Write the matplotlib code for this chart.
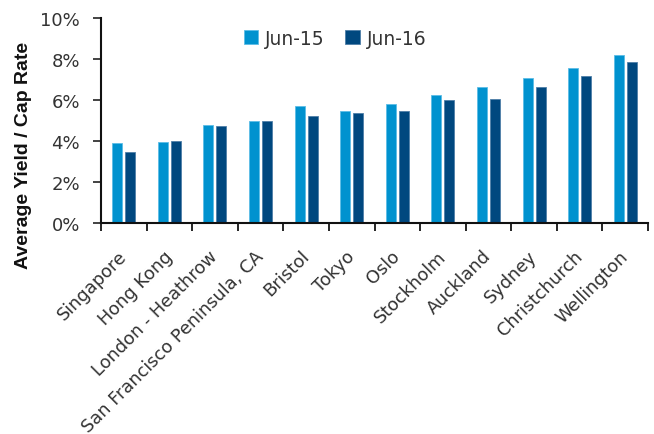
import numpy as np
import matplotlib
matplotlib.use('Agg')
import matplotlib.pyplot as plt
from matplotlib.ticker import FuncFormatter
from matplotlib.transforms import ScaledTranslation

# ============ data ============ #
cities = ["Singapore", "Hong Kong", "London - Heathrow", "San Francisco Peninsula, CA",
          "Bristol", "Tokyo", "Oslo", "Stockholm", "Auckland", "Sydney",
          "Christchurch", "Wellington"]
jun15 = [3.89, 3.93, 4.80, 4.98, 5.72, 5.48, 5.79, 6.24, 6.63, 7.07, 7.58, 8.21]
jun16 = [3.48, 3.98, 4.73, 4.98, 5.24, 5.38, 5.48, 5.98, 6.07, 6.65, 7.19, 7.87]
series_names = ["Jun-15", "Jun-16"]
y_ticks = [0, 2, 4, 6, 8, 10]

c15 = "#0092cf"
c16 = "#00487f"

plt.rcParams['font.family'] = ['DejaVu Sans']

fig = plt.figure(figsize=(6.54, 4.35), dpi=100)
ax = fig.add_axes([101 / 654, 1 - 224 / 435, (648 - 101) / 654, (224 - 19) / 435])

x = np.arange(len(cities))
w = 0.22
ax.bar(x - 0.143, jun15, width=w, color=c15, edgecolor="#5cbde6", linewidth=0.6, label=series_names[0])
ax.bar(x + 0.143, jun16, width=w, color=c16, edgecolor="#4f7fa8", linewidth=0.6, label=series_names[1])

ax.set_xlim(-0.5, len(cities) - 0.5)
ax.set_ylim(0, 10)
ax.set_yticks(y_ticks)
ax.yaxis.set_major_formatter(FuncFormatter(lambda v, p: f"{v:.0f}%"))
ax.tick_params(axis="y", labelsize=13, length=6, width=1.2, pad=9, colors="#222222", labelcolor="#333333")

# category boundary ticks, labels centred on categories
ax.set_xticks(np.arange(len(cities) + 1) - 0.5)
ax.set_xticklabels([])
ax.set_xticks(x, minor=True)
ax.set_xticklabels(cities, minor=True, rotation=45, ha="right", rotation_mode="anchor", fontsize=12.8, color="#333333")
ax.tick_params(axis="x", which="major", length=6, width=1.2, direction="out")
ax.tick_params(axis="x", which="minor", length=0, pad=17)
shift = ScaledTranslation(-4.5 / 72, 0, fig.dpi_scale_trans)
for lab in ax.get_xticklabels(minor=True):
    lab.set_transform(lab.get_transform() + shift)

for s in ["top", "right"]:
    ax.spines[s].set_visible(False)
for s in ["left", "bottom"]:
    ax.spines[s].set_linewidth(1.5)
    ax.spines[s].set_color("#111111")

ax.set_ylabel("Average Yield / Cap Rate", fontsize=14, fontweight="bold", color="#111111",
              family=["Liberation Sans", "DejaVu Sans"])
ax.yaxis.set_label_coords(-0.126, 0.334)

ax.legend(loc="upper left", bbox_to_anchor=(0.23, 1.03), ncol=2, frameon=False,
          fontsize=13.5, handlelength=0.75, handleheight=0.75, columnspacing=1.1, handletextpad=0.4,
          labelcolor="#333333")

fig.savefig("out.png", dpi=100)
